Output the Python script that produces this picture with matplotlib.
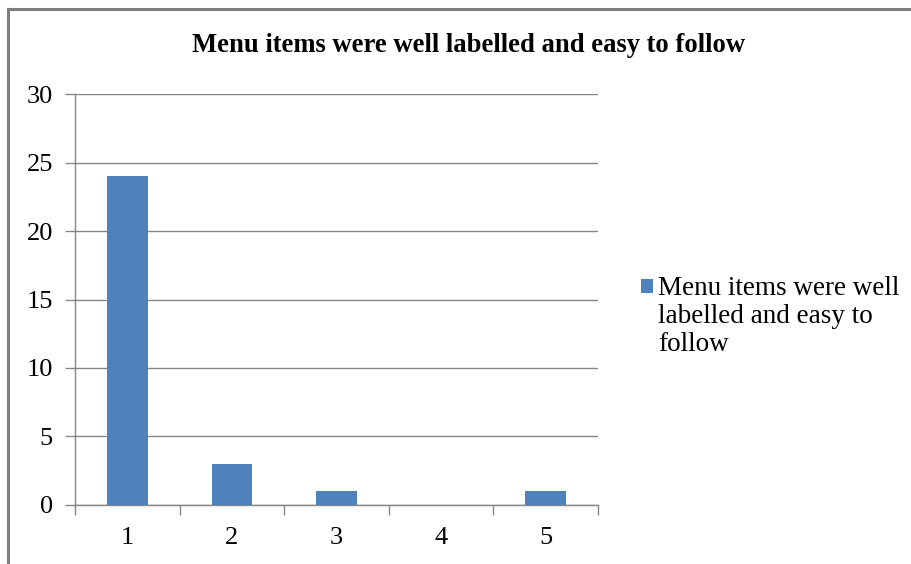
import matplotlib
matplotlib.use("Agg")
import matplotlib.pyplot as plt
from matplotlib.lines import Line2D
from matplotlib.patches import Rectangle
from matplotlib.legend_handler import HandlerPatch
from matplotlib.container import BarContainer
import numpy as np

categories = ["1", "2", "3", "4", "5"]
values = [24, 3, 1, 0, 1]
series_label = "Menu items were well\nlabelled and easy to\nfollow"
title = "Menu items were well labelled and easy to follow"
yticks = [0, 5, 10, 15, 20, 25, 30]

plt.rcParams['font.family'] = ['Liberation Serif', 'DejaVu Serif']

W, H = 912, 564
fig = plt.figure(figsize=(W / 100, H / 100), dpi=100)
ax = fig.add_axes([75 / W, 1 - 504.7 / H, (598 - 75) / W, (504.7 - 94.3) / H])

grid_c = "#868686"
bar_c = "#4F81BD"
x = np.arange(len(categories))
ax.bar(x, values, width=0.39, color=bar_c, zorder=3, label=series_label)
ax.set_xlim(-0.5, len(categories) - 0.5)
ax.set_ylim(0, 30)
ax.set_yticks(yticks)
ax.set_yticklabels([str(v) for v in yticks])
ax.yaxis.grid(True, color=grid_c, linewidth=1.0, zorder=0)
ax.set_xticks(x)
ax.set_xticklabels(categories)
ax.set_xticks(np.arange(-0.5, len(categories)), minor=True)
ax.tick_params(axis='x', which='major', length=0, labelsize=19, pad=16)
ax.tick_params(axis='x', which='minor', length=7, color=grid_c, width=1, direction='out')
ax.tick_params(axis='y', length=7, color=grid_c, width=1, labelsize=19, pad=9)
for s in ['top', 'right']:
    ax.spines[s].set_visible(False)
for s in ['left', 'bottom']:
    ax.spines[s].set_color(grid_c)
    ax.spines[s].set_linewidth(1.0)

fig.text(469 / W, 1 - 45 / H, title, ha='center', va='center', fontsize=19.2, fontweight='bold')


class TopHandler(HandlerPatch):
    def create_artists(self, legend, orig_handle, xdescent, ydescent, width, height, fontsize, trans):
        shift = fontsize * 1.12
        fc = orig_handle.patches[0].get_facecolor() if hasattr(orig_handle, 'patches') else orig_handle.get_facecolor()
        p = Rectangle((-xdescent, -ydescent + shift), width, height,
                      facecolor=fc, edgecolor='none', transform=trans)
        return [p]


leg_fs = 19.5
px = leg_fs * 100 / 72
leg = ax.legend(loc='upper left', bbox_to_anchor=(641 / W, 1 - 276 / H), bbox_transform=fig.transFigure,
                frameon=False, fontsize=leg_fs, handlelength=12 / px,
                handleheight=12 / px, handletextpad=5 / px,
                borderpad=0, borderaxespad=0,
                handler_map={BarContainer: TopHandler()})
for t in leg.get_texts():
    t.set_linespacing(1.17)

# chart border (top and left visible)
fig.add_artist(Line2D([8 / W, 1.0], [1 - 9 / H, 1 - 9 / H], transform=fig.transFigure, color="#7f7f7f", linewidth=2.2))
fig.add_artist(Line2D([8 / W, 8 / W], [0, 1 - 9 / H], transform=fig.transFigure, color="#7f7f7f", linewidth=2.2))

fig.savefig("out.png", dpi=100)
